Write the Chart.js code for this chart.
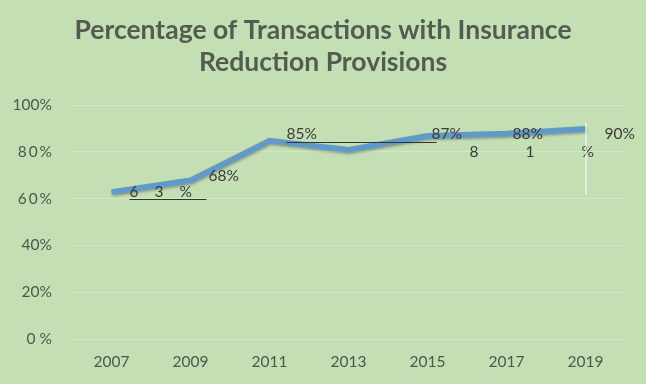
<!DOCTYPE html>
<html>
<head>
<meta charset="utf-8">
<script src="https://cdn.jsdelivr.net/npm/chart.js@4.4.0/dist/chart.umd.min.js"></script>
<style>
    html, body { margin: 0; padding: 0; background: #c5dfb4; }
    #wrap { width: 646px; height: 384px; }
</style>
</head>
<body>
<div id="wrap"><canvas id="insuranceChart"></canvas></div>
<script>
var years = ['2007', '2009', '2011', '2013', '2015', '2017', '2019'];
var percentages = [63, 68, 85, 81, 87, 88, 90];
var yTickLabels = ['0 %', '20%', '40%', '6\u20090\u2009%', '8\u20090\u2009%', '100%'];
var pointLabels = ['63%', '68%', '85%', '81%', '87%', '88%', '90%'];

// how each data label sits next to its point (the original export scrambled some of them)
var labelLayout = [
    { dx: 18, dy: 0, spread: 25, underline: [18, 95, 7] },
    { dx: 18, dy: -4 },
    { dx: 17, dy: -6, underline: [17, 167, 2] },
    { dx: 121, dy: 2.5, spread: 56 },
    { dx: 4, dy: -1.5 },
    { dx: 6, dy: 1 },
    { dx: 19, dy: 5.5, whiteLine: [-6, 66] }
];

var labelPlugin = {
    id: 'pointLabels',
    beforeDatasetDraw: function (chart) {
        var ctx = chart.ctx;
        ctx.save();
        ctx.shadowColor = 'rgba(0, 0, 0, 0.35)';
        ctx.shadowBlur = 3;
        ctx.shadowOffsetX = 1;
        ctx.shadowOffsetY = 2;
    },
    afterDatasetDraw: function (chart) {
        chart.ctx.restore();
    },
    afterDatasetsDraw: function (chart) {
        var ctx = chart.ctx;
        var meta = chart.getDatasetMeta(0);
        ctx.save();
        ctx.font = '15.5px Lato';
        ctx.fillStyle = '#3a3a3a';
        ctx.textBaseline = 'middle';
        ctx.textAlign = 'left';
        meta.data.forEach(function (pt, i) {
            var lay = labelLayout[i];
            var x = pt.x + lay.dx;
            var y = pt.y + lay.dy;
            if (lay.whiteLine) {
                ctx.strokeStyle = '#ffffff';
                ctx.lineWidth = 1;
                ctx.beginPath();
                ctx.moveTo(pt.x + 0.5, pt.y + lay.whiteLine[0]);
                ctx.lineTo(pt.x + 0.5, pt.y + lay.whiteLine[1]);
                ctx.stroke();
            }
            if (lay.spread) {
                pointLabels[i].split('').forEach(function (ch, k) {
                    ctx.fillText(ch, x + k * lay.spread, y);
                });
            } else {
                ctx.fillText(pointLabels[i], x, y);
            }
            if (lay.underline) {
                ctx.strokeStyle = '#333333';
                ctx.lineWidth = 1;
                ctx.beginPath();
                ctx.moveTo(pt.x + lay.underline[0], Math.round(pt.y + lay.underline[2]) + 0.5);
                ctx.lineTo(pt.x + lay.underline[1], Math.round(pt.y + lay.underline[2]) + 0.5);
                ctx.stroke();
            }
        });
        ctx.restore();
    }
};

var ctx = document.getElementById('insuranceChart').getContext('2d');
var insuranceChart = new Chart(ctx, {
    type: 'line',
    data: {
        labels: years,
        datasets: [{
            data: percentages,
            borderColor: '#5b9bd5',
            borderWidth: 5,
            pointRadius: 0,
            tension: 0,
            fill: false
        }]
    },
    options: {
        responsive: true,
        maintainAspectRatio: false,
        animation: false,
        layout: { padding: 0 },
        plugins: {
            legend: { display: false },
            tooltip: { enabled: false },
            title: {
                display: true,
                text: ['Percentage of Transactions with Insurance', 'Reduction Provisions'],
                color: '#525c50',
                font: { family: 'Lato', size: 26.5, weight: 'bold', lineHeight: 1.21 },
                padding: { top: 14, bottom: 27 }
            }
        },
        scales: {
            x: {
                offset: true,
                grid: { display: false, drawTicks: false },
                border: { display: false },
                ticks: { color: '#4e574b', font: { family: 'Lato', size: 15.5 }, padding: 14 },
                afterFit: function (scale) { scale.height = 45; }
            },
            y: {
                min: 0,
                max: 100,
                ticks: {
                    stepSize: 20,
                    color: '#4e574b',
                    font: { family: 'Lato', size: 15.5 },
                    padding: 20,
                    callback: function (value) { return yTickLabels[value / 20]; }
                },
                grid: { color: '#d3e7c7', lineWidth: 1, drawTicks: false },
                border: { display: false },
                afterFit: function (scale) { scale.width = 72; }
            },
            yRight: {
                position: 'right',
                min: 0,
                max: 100,
                grid: { display: false, drawTicks: false },
                border: { display: false },
                ticks: { display: false },
                afterFit: function (scale) { scale.width = 21; }
            }
        }
    },
    plugins: [labelPlugin]
});
</script>
</body>
</html>
